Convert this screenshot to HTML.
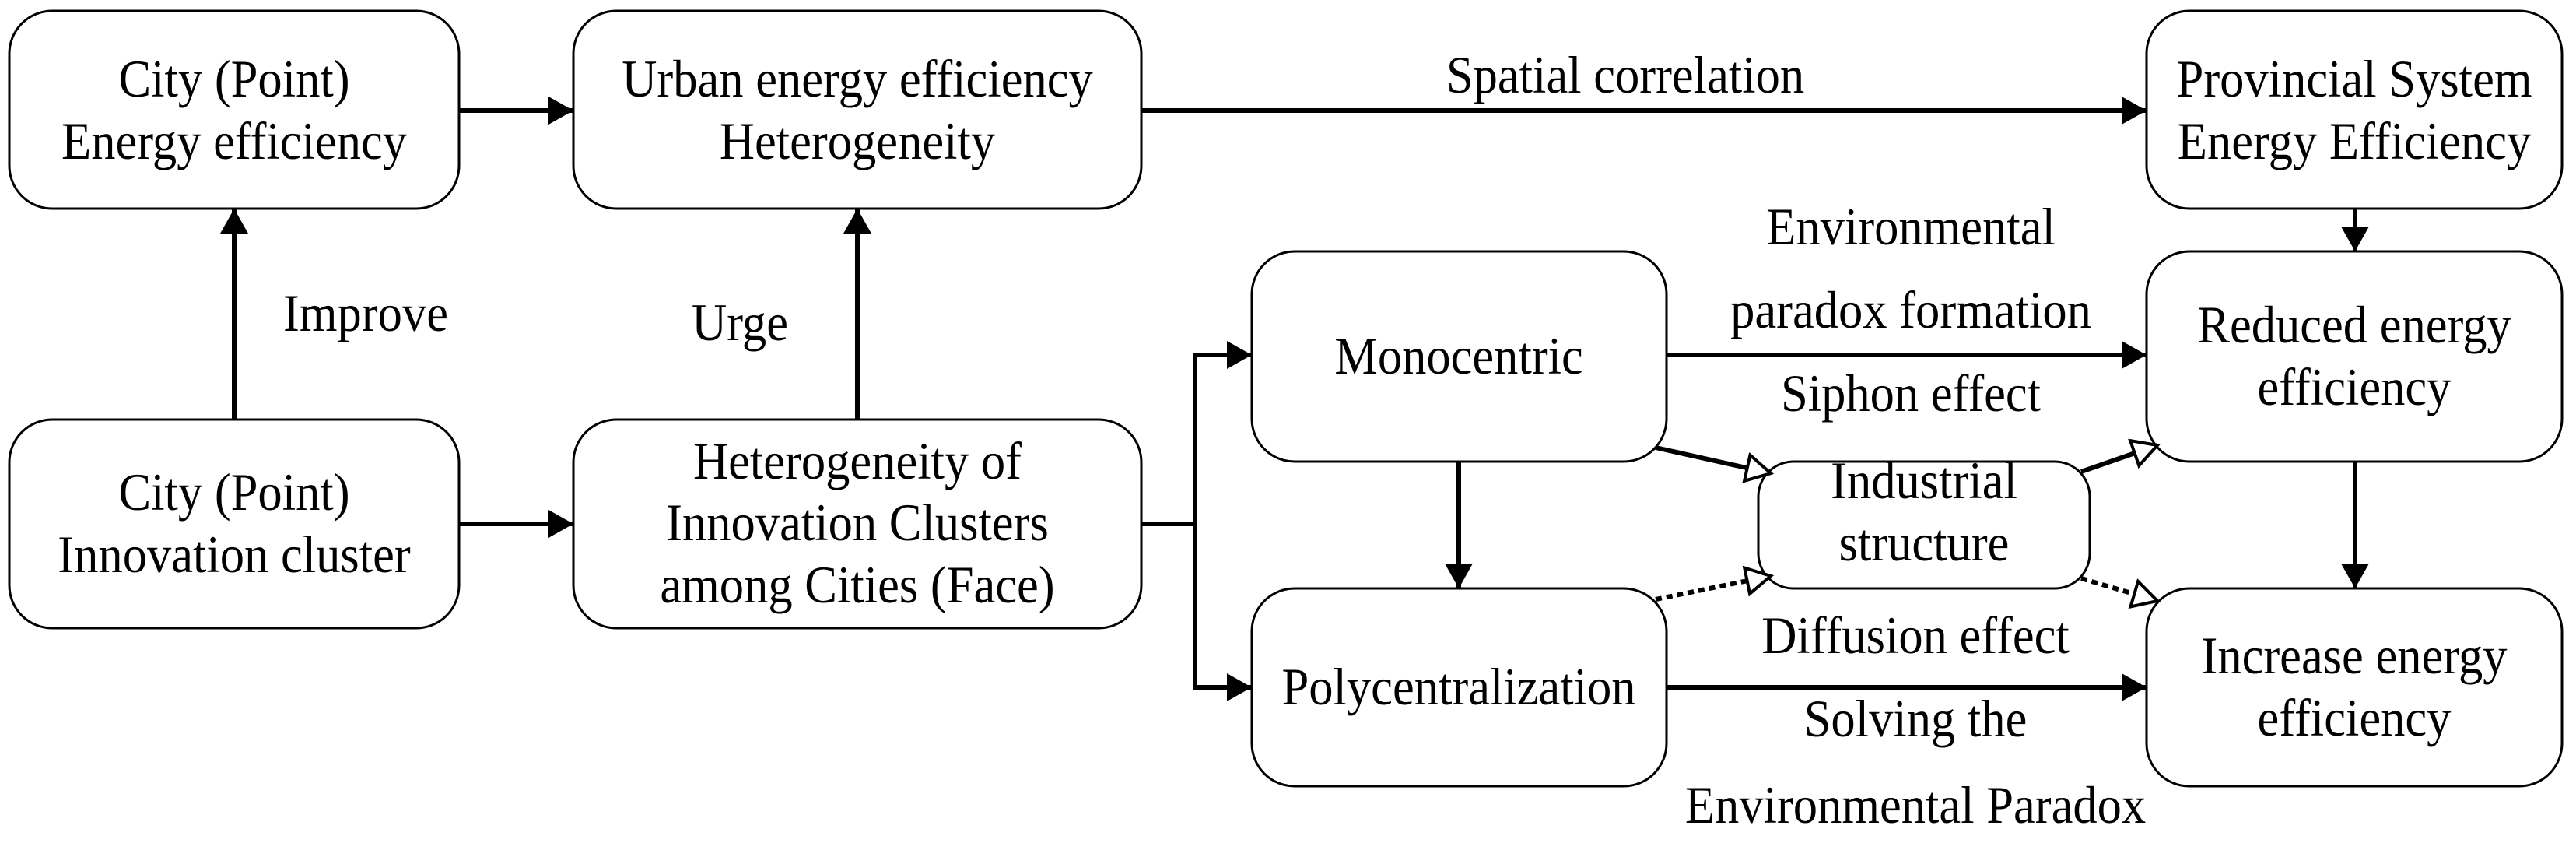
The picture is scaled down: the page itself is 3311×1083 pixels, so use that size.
<!DOCTYPE html>
<html><head><meta charset="utf-8"><style>html,body{margin:0;padding:0;background:#fff}svg{display:block}
.t text{font-family:"Liberation Serif","Times New Roman","DejaVu Serif","Noto Serif CJK SC",serif;font-size:68px;fill:#000;text-anchor:middle}</style></head>
<body>
<svg width="3311" height="1083" viewBox="0 0 3311 1083" xmlns="http://www.w3.org/2000/svg">
<defs>
<marker id="f" markerUnits="userSpaceOnUse" markerWidth="40" markerHeight="40" refX="32" refY="18" orient="auto"><path d="M0,0 L32,18 L0,36 Z" fill="#000"/></marker>
<marker id="o" markerUnits="userSpaceOnUse" markerWidth="44" markerHeight="44" refX="34" refY="20" orient="auto"><path d="M3,3 L34,20 L3,37 Z" fill="#fff" stroke="#000" stroke-width="4"/></marker>
</defs>
<g fill="#fff" stroke="#000" stroke-width="3">
<rect x="12" y="14" width="578" height="254" rx="55"/>
<rect x="737" y="14" width="730" height="254" rx="55"/>
<rect x="12" y="539" width="578" height="268" rx="55"/>
<rect x="737" y="539" width="730" height="268" rx="55"/>
<rect x="2759" y="14" width="534" height="254" rx="55"/>
<rect x="1609" y="323" width="533" height="270" rx="55"/>
<rect x="2759" y="323" width="534" height="270" rx="55"/>
<rect x="2260" y="593" width="426" height="163" rx="45"/>
<rect x="1609" y="756" width="533" height="254" rx="55"/>
<rect x="2759" y="756" width="534" height="254" rx="55"/>
</g>
<g stroke="#000" stroke-width="6" fill="none">
<line x1="590" y1="142" x2="737" y2="142" marker-end="url(#f)"/>
<line x1="590" y1="673" x2="737" y2="673" marker-end="url(#f)"/>
<line x1="301" y1="539" x2="301" y2="268" marker-end="url(#f)"/>
<line x1="1102" y1="539" x2="1102" y2="268" marker-end="url(#f)"/>
<line x1="1467" y1="142" x2="2759" y2="142" marker-end="url(#f)"/>
<line x1="1467" y1="673" x2="1536" y2="673"/>
<polyline points="1600,456 1536,456 1536,883 1600,883" stroke-linejoin="miter"/>
<line x1="1536" y1="456" x2="1609" y2="456" marker-end="url(#f)"/>
<line x1="1536" y1="883" x2="1609" y2="883" marker-end="url(#f)"/>
<line x1="2142" y1="456" x2="2759" y2="456" marker-end="url(#f)"/>
<line x1="2142" y1="883" x2="2759" y2="883" marker-end="url(#f)"/>
<line x1="3027" y1="268" x2="3027" y2="323" marker-end="url(#f)"/>
<line x1="3027" y1="593" x2="3027" y2="756" marker-end="url(#f)"/>
<line x1="1875" y1="593" x2="1875" y2="756" marker-end="url(#f)"/>
<line x1="2128" y1="575" x2="2276" y2="608" marker-end="url(#o)"/>
<line x1="2675" y1="606" x2="2773" y2="572" marker-end="url(#o)"/>
<line x1="2128" y1="770" x2="2276" y2="740" stroke-dasharray="8,6" marker-end="url(#o)"/>
<line x1="2675" y1="743" x2="2773" y2="772" stroke-dasharray="8,6" marker-end="url(#o)"/>
</g>
<g class="t">
<text transform="translate(301,124) scale(0.92,1)">City (Point)</text>
<text transform="translate(301,204) scale(0.92,1)">Energy efficiency</text>
<text transform="translate(1102,124) scale(0.92,1)">Urban energy efficiency</text>
<text transform="translate(1102,204) scale(0.92,1)">Heterogeneity</text>
<text transform="translate(301,655) scale(0.92,1)">City (Point)</text>
<text transform="translate(301,735) scale(0.92,1)">Innovation cluster</text>
<text transform="translate(1102,615) scale(0.92,1)">Heterogeneity of</text>
<text transform="translate(1102,694) scale(0.92,1)">Innovation Clusters</text>
<text transform="translate(1102,774) scale(0.92,1)">among Cities (Face)</text>
<text transform="translate(3026,124) scale(0.92,1)">Provincial System</text>
<text transform="translate(3026,204) scale(0.92,1)">Energy Efficiency</text>
<text transform="translate(1875,480) scale(0.92,1)">Monocentric</text>
<text transform="translate(3026,440) scale(0.92,1)">Reduced energy</text>
<text transform="translate(3026,520) scale(0.92,1)">efficiency</text>
<text transform="translate(2473,640) scale(0.92,1)">Industrial</text>
<text transform="translate(2473,720) scale(0.92,1)">structure</text>
<text transform="translate(1875,905) scale(0.92,1)">Polycentralization</text>
<text transform="translate(3026,865) scale(0.92,1)">Increase energy</text>
<text transform="translate(3026,945) scale(0.92,1)">efficiency</text>
<text transform="translate(2089,119) scale(0.92,1)">Spatial correlation</text>
<text transform="translate(470,425) scale(0.92,1)">Improve</text>
<text transform="translate(951,437) scale(0.92,1)">Urge</text>
<text transform="translate(2456,314) scale(0.92,1)">Environmental</text>
<text transform="translate(2456,421) scale(0.92,1)">paradox formation</text>
<text transform="translate(2456,528) scale(0.92,1)">Siphon effect</text>
<text transform="translate(2462,839) scale(0.92,1)">Diffusion effect</text>
<text transform="translate(2462,946) scale(0.92,1)">Solving the</text>
<text transform="translate(2462,1057) scale(0.92,1)">Environmental Paradox</text>
</g>
</svg>
</body></html>
